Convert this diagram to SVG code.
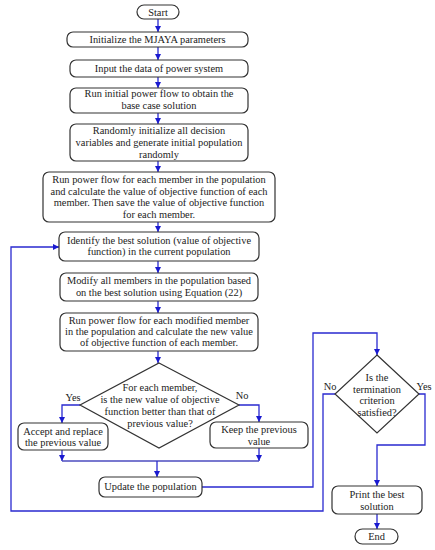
<svg xmlns="http://www.w3.org/2000/svg" width="435" height="550" viewBox="0 0 435 550">
<defs>
<marker id="ah" viewBox="0 0 10 10" refX="10" refY="5" markerWidth="6" markerHeight="6" markerUnits="userSpaceOnUse" orient="auto">
<path d="M0,0 L10,5 L0,10 Z" fill="#1a1ad0"/>
</marker>
<style>
.b{fill:#fff;stroke:#333;stroke-width:1.2}
.t{font-family:"Liberation Serif","Times New Roman",serif;font-size:10.4px;fill:#222;text-anchor:middle}
.c{fill:none;stroke:#4b4bbf;stroke-width:1.3}
.a{fill:none;stroke:#2a2ad0;stroke-width:1.3;marker-end:url(#ah)}
</style>
</defs>
<rect width="435" height="550" fill="#fff"/>
<g id="connectors">
<line class="a" x1="158" y1="19" x2="158" y2="32"/>
<line class="a" x1="158" y1="47" x2="158" y2="60"/>
<line class="a" x1="158" y1="77" x2="158" y2="88"/>
<line class="a" x1="158" y1="113" x2="158" y2="124"/>
<line class="a" x1="158" y1="161" x2="158" y2="172"/>
<line class="a" x1="158" y1="222" x2="158" y2="232"/>
<line class="a" x1="158" y1="261" x2="158" y2="273"/>
<line class="a" x1="158" y1="301" x2="158" y2="313"/>
<line class="a" x1="158" y1="351" x2="158" y2="363"/>
<polyline class="a" points="80,405 62,405 62,423"/>
<polyline class="a" points="239,405 259,405 259,422"/>
<line class="a" x1="62" y1="450" x2="62" y2="461"/>
<line class="a" x1="259" y1="448" x2="259" y2="461"/>
<line class="c" x1="62" y1="461" x2="259" y2="461"/>
<line class="a" x1="157" y1="461" x2="157" y2="477"/>
<polyline class="a" points="202,487 313,487 313,333 377,333 377,355"/>
<polyline class="a" points="335,394 323,394 323,511 11,511 11,247 59,247"/>
<polyline class="a" points="419,394 425,394 425,445 377,445 377,486"/>
<line class="a" x1="377" y1="514" x2="377" y2="529"/>
</g>
<g id="start"><rect class="b" x="137" y="5" width="42" height="14" rx="7"/><text class="t" x="158" y="15.8">Start</text></g>
<g id="init"><rect class="b" x="67" y="32" width="181" height="15" rx="6"/><text class="t" x="157.5" y="43.3">Initialize the MJAYA parameters</text></g>
<g id="input"><rect class="b" x="70" y="60" width="178" height="17" rx="6"/><text class="t" x="159" y="72.3">Input the data of power system</text></g>
<g id="runinit"><rect class="b" x="70" y="88" width="178" height="25" rx="6"/><text class="t" x="159" y="97.2">Run initial power flow to obtain the</text><text class="t" x="159" y="109.2">base case solution</text></g>
<g id="random"><rect class="b" x="70" y="124" width="178" height="37" rx="6"/><text class="t" x="159" y="134.4">Randomly initialize all decision</text><text class="t" x="159" y="146.4">variables and generate initial population</text><text class="t" x="159" y="157.8">randomly</text></g>
<g id="runpf"><rect class="b" x="43" y="172" width="232" height="50" rx="6"/><text class="t" x="159" y="183">Run power flow for each member in the population</text><text class="t" x="159" y="194.7">and calculate the value of objective function of each</text><text class="t" x="159" y="206.4">member. Then save the value of objective function</text><text class="t" x="159" y="218">for each member.</text></g>
<g id="identify"><rect class="b" x="59" y="232" width="200" height="29" rx="6"/><text class="t" x="159" y="243.7">Identify the best solution (value of objective</text><text class="t" x="159" y="255.4">function) in the current population</text></g>
<g id="modify"><rect class="b" x="60" y="273" width="198" height="28" rx="6"/><text class="t" x="159" y="284.4">Modify all members in the population based</text><text class="t" x="159" y="296.4">on the best solution using Equation (22)</text></g>
<g id="runmod"><rect class="b" x="60" y="313" width="198" height="38" rx="6"/><text class="t" x="159" y="324.4">Run power flow for each modified member</text><text class="t" x="159" y="335.4">in the population and calculate the new value</text><text class="t" x="159" y="346.4">of objective function of each member.</text></g>
<g id="decision1"><polygon class="b" points="159,363 239,405 159,448 80,405"/><text class="t" x="160" y="391.4">For each member,</text><text class="t" x="160" y="402.9">is the new value of objective</text><text class="t" x="160" y="415.4">function better than that of</text><text class="t" x="160" y="426.9">previous value?</text></g>
<text class="t" x="73" y="401">Yes</text>
<text class="t" x="242" y="399">No</text>
<g id="accept"><rect class="b" x="18" y="423" width="90" height="27" rx="6"/><text class="t" x="63" y="435.4">Accept and replace</text><text class="t" x="63" y="446.4">the previous value</text></g>
<g id="keep"><rect class="b" x="210" y="422" width="98" height="26" rx="6"/><text class="t" x="259" y="433">Keep the previous</text><text class="t" x="259" y="444.7">value</text></g>
<g id="update"><rect class="b" x="99" y="477" width="103" height="20" rx="6"/><text class="t" x="150.5" y="490.4">Update the population</text></g>
<g id="decision2"><polygon class="b" points="377,355 419,394 377,433 335,394"/><text class="t" x="377" y="381">Is the</text><text class="t" x="377" y="392.8">termination</text><text class="t" x="377" y="404.4">criterion</text><text class="t" x="377" y="416">satisfied?</text></g>
<text class="t" x="330" y="390">No</text>
<text class="t" x="424" y="390">Yes</text>
<g id="print"><rect class="b" x="332" y="486" width="90" height="28" rx="6"/><text class="t" x="377" y="498">Print the best</text><text class="t" x="377" y="509.8">solution</text></g>
<g id="end"><rect class="b" x="355" y="529" width="43" height="15" rx="7.5"/><text class="t" x="376.5" y="540.4">End</text></g>
</svg>
